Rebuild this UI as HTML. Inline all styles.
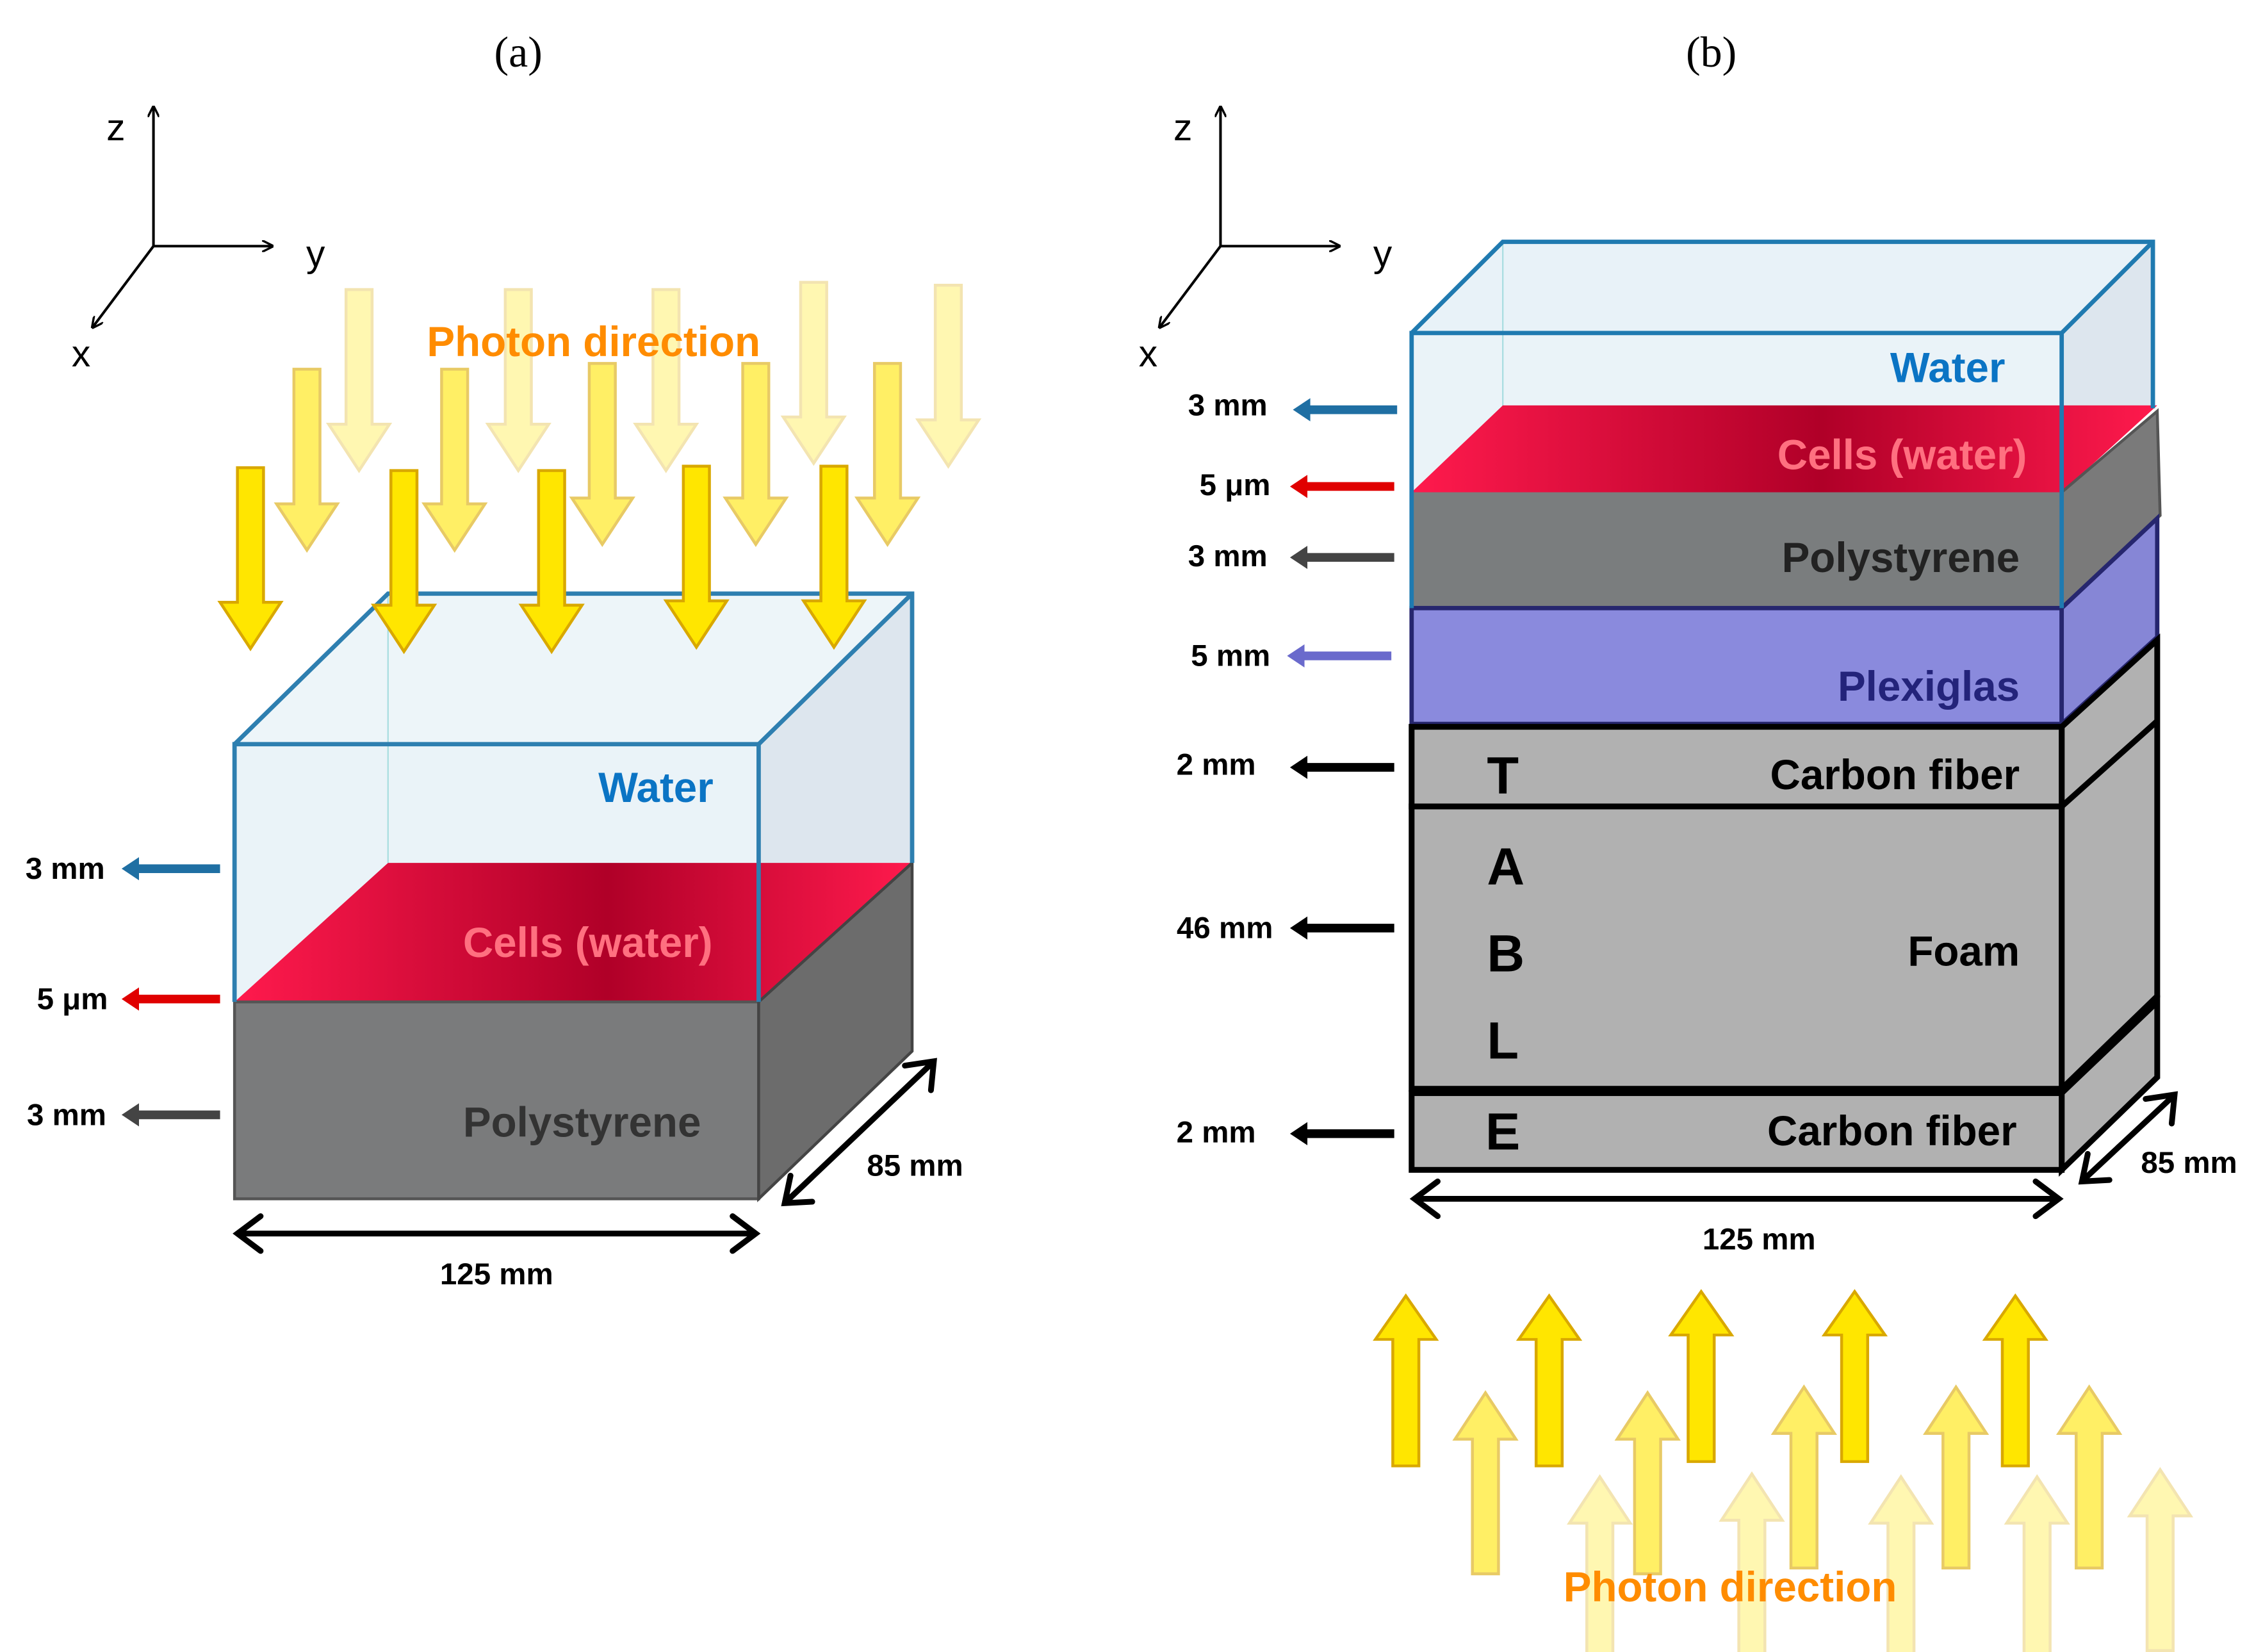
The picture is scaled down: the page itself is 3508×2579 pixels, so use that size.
<!DOCTYPE html>
<html><head><meta charset="utf-8"><style>html,body{margin:0;padding:0;background:#fff}svg{display:block}</style></head><body>
<svg width="3508" height="2579" viewBox="0 0 1552 1141" xmlns="http://www.w3.org/2000/svg" font-family="Liberation Sans, sans-serif">
<defs>
<path id="ad" d="M-9,-125 H9 V-32 H21 L0,0 L-21,-32 H-9 Z"/>
<linearGradient id="cell" x1="0" x2="1" y1="0" y2="0"><stop offset="0" stop-color="#ff1a4d"/><stop offset="0.55" stop-color="#b00028"/><stop offset="1" stop-color="#ff1a4d"/></linearGradient>
<marker id="ah" markerWidth="8" markerHeight="8" refX="7" refY="4" orient="auto" markerUnits="userSpaceOnUse"><path d="M0,0 L8,4 L0,8" fill="none" stroke="#000" stroke-width="1.5"/></marker>
</defs>
<rect width="1552" height="1141" fill="#fff"/>
<g font-family="Liberation Serif, serif" font-size="30" text-anchor="middle"><text x="358" y="46">(a)</text><text x="1182" y="46">(b)</text></g>

<g stroke="#000" stroke-width="1.8" fill="none">
<line x1="106" y1="170" x2="106" y2="74" marker-end="url(#ah)"/><line x1="106" y1="170" x2="188" y2="170" marker-end="url(#ah)"/><line x1="106" y1="170" x2="64" y2="226" marker-end="url(#ah)"/>
<line x1="843" y1="170" x2="843" y2="74" marker-end="url(#ah)"/><line x1="843" y1="170" x2="925" y2="170" marker-end="url(#ah)"/><line x1="843" y1="170" x2="801" y2="226" marker-end="url(#ah)"/>
</g>
<g font-size="26" text-anchor="middle"><text x="80" y="97">z</text><text x="218" y="184">y</text><text x="56" y="253">x</text>
<text x="817" y="97">z</text><text x="955" y="184">y</text><text x="793" y="253">x</text></g>

<g fill="#ffe600" stroke="#d9a800" stroke-width="2">
<g opacity="0.3"><use href="#ad" x="248" y="325"/><use href="#ad" x="358" y="325"/><use href="#ad" x="460" y="325"/><use href="#ad" x="562" y="320"/><use href="#ad" x="655" y="322"/></g>
<g opacity="0.6"><use href="#ad" x="212" y="380"/><use href="#ad" x="314" y="380"/><use href="#ad" x="416" y="376"/><use href="#ad" x="522" y="376"/><use href="#ad" x="613" y="376"/></g>
</g>
<text x="410" y="246" font-size="29" font-weight="bold" fill="#ff8c00" text-anchor="middle">Photon direction</text>

<polygon points="162,514 268,410 630,410 524,514" fill="#e8f2f8" opacity="0.8"/>
<polygon points="524,514 630,410 630,596 524,692" fill="#dde6ee"/>
<rect x="162" y="514" width="362" height="178" fill="#eaf3f8"/>
<line x1="268" y1="410" x2="268" y2="596" stroke="#a8dde0" stroke-width="1"/>
<polygon points="162,692 268,596 630,596 524,692" fill="url(#cell)"/>
<rect x="162" y="692" width="362" height="136" fill="#7a7b7c" stroke="#555" stroke-width="2"/>
<polygon points="524,692 630,596 630,726 524,828" fill="#6c6c6c" stroke="#444" stroke-width="2"/>
<g fill="none" stroke="#2e7fb0" stroke-width="3">
<polyline points="162,692 162,514 524,514 524,692"/><polyline points="162,514 268,410 630,410 630,596"/><line x1="524" y1="514" x2="630" y2="410"/>
</g>
<g fill="#ffe600" stroke="#d9a800" stroke-width="2">
<use href="#ad" x="173" y="448"/><use href="#ad" x="279" y="450"/><use href="#ad" x="381" y="450"/><use href="#ad" x="481" y="447"/><use href="#ad" x="576" y="447"/>
</g>
<g font-weight="bold" font-size="29" text-anchor="middle">
<text x="453" y="554" fill="#0b74c4">Water</text>
<text x="406" y="661" fill="#ff7080">Cells (water)</text>
<text x="402" y="785" fill="#333">Polystyrene</text>
</g>
<g stroke="#000" stroke-width="4" fill="none" stroke-linecap="round">
<line x1="166" y1="852" x2="520" y2="852"/><polyline points="180,840 164,852 180,864"/><polyline points="506,840 522,852 506,864"/>
<line x1="544" y1="829" x2="643" y2="735"/><polyline points="546,812 542,831 561,830"/><polyline points="625,736 645,733 643,753"/>
</g>
<g font-weight="bold" font-size="21" text-anchor="middle"><text x="343" y="887">125 mm</text><text x="632" y="812">85 mm</text>
<text x="45" y="607">3 mm</text><text x="50" y="697">5 μm</text><text x="46" y="777">3 mm</text></g>
<g stroke-width="6">
<line x1="152" y1="600" x2="94" y2="600" stroke="#1f6fa3"/><polygon points="84,600 96,592 96,608" fill="#1f6fa3"/>
<line x1="152" y1="690" x2="94" y2="690" stroke="#e00000"/><polygon points="84,690 96,682 96,698" fill="#e00000"/>
<line x1="152" y1="770" x2="94" y2="770" stroke="#444"/><polygon points="84,770 96,762 96,778" fill="#444"/>
</g>

<polygon points="975,230 1038,167 1487,167 1424,230" fill="#e8f2f8"/>
<polygon points="1424,230 1487,167 1487,282 1424,340" fill="#dde6ee"/>
<rect x="975" y="230" width="449" height="110" fill="#eaf3f8"/>
<line x1="1038" y1="167" x2="1038" y2="500" stroke="#a8dde0" stroke-width="1"/>
<polygon points="975,340 1038,280 1490,280 1424,340" fill="url(#cell)"/>
<rect x="975" y="340" width="449" height="80" fill="#7a7d7e"/>
<polygon points="1424,340 1490,284 1492,356 1424,420" fill="#7a7a7a" stroke="#555" stroke-width="2"/>
<rect x="975" y="420" width="449" height="80" fill="#8a8add" stroke="#26266e" stroke-width="3"/>
<polygon points="1424,420 1490,358 1490,440 1424,500" fill="#8686d6" stroke="#26266e" stroke-width="3"/>
<g fill="#b1b1b1" stroke="#000" stroke-width="4">
<polygon points="1424,502 1490,442 1490,688 1424,752"/>
<polygon points="1424,755 1490,692 1490,744 1424,808"/>
<rect x="975" y="502" width="449" height="55"/>
<rect x="975" y="557" width="449" height="195"/>
<rect x="975" y="755" width="449" height="53"/>
<line x1="1424" y1="557" x2="1490" y2="498"/>
</g>
<g fill="none" stroke="#1f7ab0" stroke-width="3">
<polyline points="975,420 975,230 1424,230 1424,420"/><polyline points="975,230 1038,167 1487,167 1487,282"/><line x1="1424" y1="230" x2="1487" y2="167"/>
</g>
<g font-weight="bold" font-size="29" text-anchor="end">
<text x="1385" y="264" fill="#0b74c4">Water</text>
<text x="1400" y="324" fill="#ff7080">Cells (water)</text>
<text x="1395" y="395" fill="#222">Polystyrene</text>
<text x="1395" y="484" fill="#23237a">Plexiglas</text>
<text x="1395" y="545" fill="#000">Carbon fiber</text>
<text x="1395" y="667" fill="#000">Foam</text>
<text x="1393" y="791" fill="#000">Carbon fiber</text>
</g>
<g font-weight="bold" font-size="36" text-anchor="middle"><text x="1038" y="548">T</text><text x="1040" y="611">A</text><text x="1040" y="671">B</text><text x="1038" y="731">L</text><text x="1038" y="794">E</text></g>
<g stroke="#000" stroke-width="4" fill="none" stroke-linecap="round">
<line x1="979" y1="828" x2="1420" y2="828"/><polyline points="993,816 977,828 993,840"/><polyline points="1406,816 1422,828 1406,840"/>
<line x1="1440" y1="814" x2="1500" y2="758"/><polyline points="1442,797 1438,816 1457,815"/><polyline points="1482,759 1502,756 1500,776"/>
</g>
<g font-weight="bold" font-size="21" text-anchor="middle"><text x="1215" y="863">125 mm</text><text x="1512" y="810">85 mm</text>
<text x="848" y="287">3 mm</text><text x="853" y="342">5 μm</text><text x="848" y="391">3 mm</text><text x="850" y="460">5 mm</text><text x="840" y="535">2 mm</text><text x="846" y="648">46 mm</text><text x="840" y="789">2 mm</text></g>
<g stroke-width="6">
<line x1="965" y1="283" x2="903" y2="283" stroke="#1f6fa3"/><polygon points="893,283 905,275 905,291" fill="#1f6fa3"/>
<line x1="963" y1="336" x2="901" y2="336" stroke="#e00000"/><polygon points="891,336 903,328 903,344" fill="#e00000"/>
<line x1="963" y1="385" x2="901" y2="385" stroke="#444"/><polygon points="891,385 903,377 903,393" fill="#444"/>
<line x1="961" y1="453" x2="899" y2="453" stroke="#6a6acc"/><polygon points="889,453 901,445 901,461" fill="#6a6acc"/>
<line x1="963" y1="530" x2="901" y2="530" stroke="#000"/><polygon points="891,530 903,522 903,538" fill="#000"/>
<line x1="963" y1="641" x2="901" y2="641" stroke="#000"/><polygon points="891,641 903,633 903,649" fill="#000"/>
<line x1="963" y1="783" x2="901" y2="783" stroke="#000"/><polygon points="891,783 903,775 903,791" fill="#000"/>
</g>

<g fill="#ffe600" stroke="#d9a800" stroke-width="2">
<g opacity="0.3"><use href="#ad" transform="translate(1105,1020) rotate(180)"/><use href="#ad" transform="translate(1210,1018) rotate(180)"/><use href="#ad" transform="translate(1313,1020) rotate(180)"/><use href="#ad" transform="translate(1407,1020) rotate(180)"/><use href="#ad" transform="translate(1492,1015) rotate(180)"/></g>
<g opacity="0.6"><use href="#ad" transform="translate(1026,962) rotate(180)"/><use href="#ad" transform="translate(1138,962) rotate(180)"/><use href="#ad" transform="translate(1246,958) rotate(180)"/><use href="#ad" transform="translate(1351,958) rotate(180)"/><use href="#ad" transform="translate(1443,958) rotate(180)"/></g>
<use href="#ad" transform="translate(971,895) rotate(180) scale(1,0.94)"/><use href="#ad" transform="translate(1070,895) rotate(180) scale(1,0.94)"/><use href="#ad" transform="translate(1175,892) rotate(180) scale(1,0.94)"/><use href="#ad" transform="translate(1281,892) rotate(180) scale(1,0.94)"/><use href="#ad" transform="translate(1392,895) rotate(180) scale(1,0.94)"/>
</g>
<text x="1195" y="1106" font-size="29" font-weight="bold" fill="#ff8c00" text-anchor="middle">Photon direction</text>
</svg>
</body></html>
